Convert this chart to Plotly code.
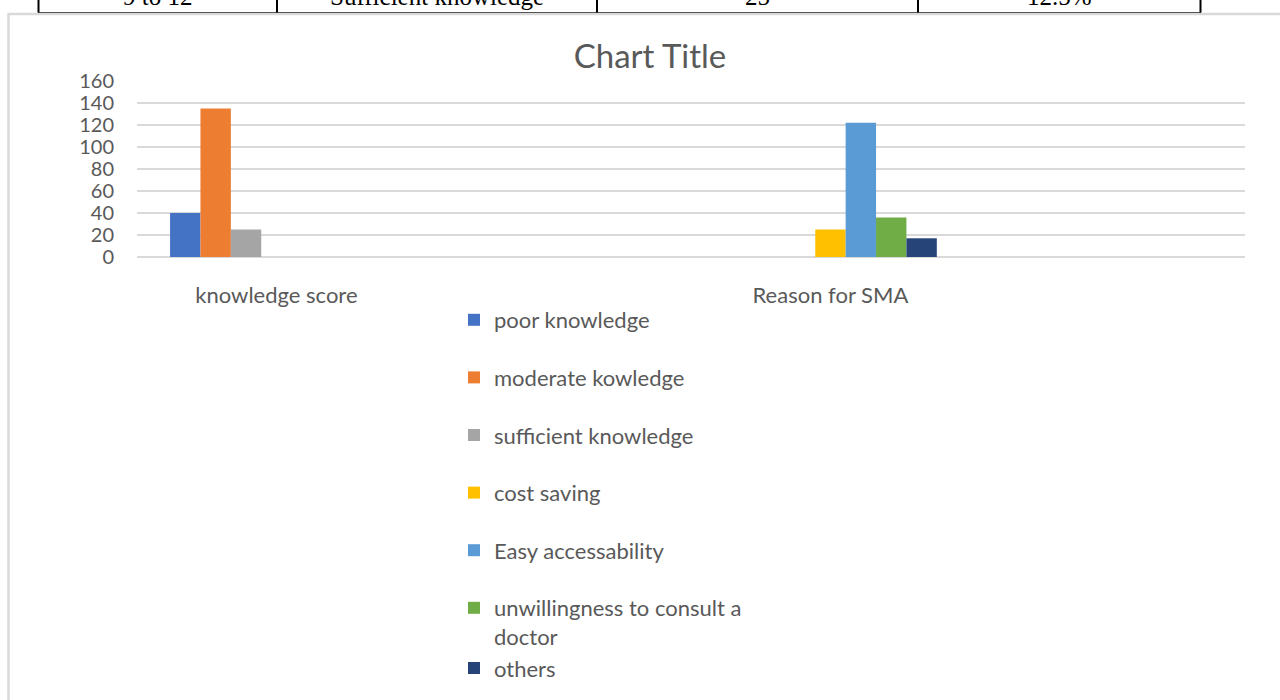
import plotly.graph_objects as go

# ---- data ----
categories = ["knowledge score", "Reason for SMA"]
series_names = [
    "poor knowledge",
    "moderate kowledge",
    "sufficient knowledge",
    "cost saving",
    "Easy accessability",
    "unwillingness to consult a<br>doctor",
    "others",
]
knowledge_values = [40, 135, 25, None, None, None, None]
reason_values = [None, None, None, 25, 122, 36, 17]
series_colors = ["#4472C4", "#ED7D31", "#A5A5A5", "#FFC000", "#5B9BD5", "#70AD47", "#264478"]
legend_groups = ["g1", "g2", "g3", "g4", "g5", "g6", "g6"]

# table fragment at top of page
table_cells = ["9 to 12", "Sufficient knowledge", "25", "12.5%"]
y_ticks = [0, 20, 40, 60, 80, 100, 120, 140, 160]

# ---- layout geometry (pixels) ----
W, H = 1280, 700
L, R, T, B = 137, 1245, 81, 257  # plot area edges
pw, ph = R - L, B - T


def px_x(px):
    return (px - L) / pw


def px_y(py):
    return (B - py) / ph


fig = go.Figure()
for i, name in enumerate(series_names):
    fig.add_trace(go.Bar(
        x=categories,
        y=[knowledge_values[i], reason_values[i]],
        name=name,
        marker=dict(color=series_colors[i], line=dict(width=0)),
        legendgroup=legend_groups[i],
    ))

shapes = []
# chart area border
shapes.append(dict(type="rect", xref="paper", yref="paper",
                   x0=px_x(8.5), x1=px_x(1295), y0=px_y(14), y1=px_y(715),
                   line=dict(color="#D9D9D9", width=2.5), fillcolor="rgba(0,0,0,0)", layer="below"))
# table fragment lines
shapes.append(dict(type="line", xref="paper", yref="paper",
                   x0=px_x(38), x1=px_x(1201), y0=px_y(12.5), y1=px_y(12.5),
                   line=dict(color="#555555", width=1.2)))
for vx in [38.5, 277, 597, 918, 1200.5]:
    shapes.append(dict(type="line", xref="paper", yref="paper",
                       x0=px_x(vx), x1=px_x(vx), y0=px_y(-5), y1=px_y(12.5),
                       line=dict(color="#000000", width=2)))

annotations = []
cell_centers = [157, 437, 757, 1059]
for cx, txt in zip(cell_centers, table_cells):
    annotations.append(dict(text=txt, xref="paper", yref="paper", x=px_x(cx), y=px_y(-4),
                            xanchor="center", yanchor="middle", showarrow=False,
                            font=dict(family="Liberation Serif", size=25, color="#000000")))

fig.update_layout(
    width=W, height=H,
    margin=dict(l=L, r=W - R, t=T, b=H - B, autoexpand=False),
    paper_bgcolor="white", plot_bgcolor="white",
    barmode="group", bargap=0.616, bargroupgap=0,
    title=dict(text="Chart Title", x=px_x(650), xref="paper", xanchor="center",
               y=1 - 56 / H, yref="container", yanchor="middle",
               font=dict(family="Lato", size=33, color="#595959")),
    font=dict(family="Lato", color="#595959"),
    xaxis=dict(type="category", range=[-0.2517, 1.7483], showgrid=False, showline=False,
               zeroline=False, ticks="", tickfont=dict(size=22, color="#595959"),
               ticklabelstandoff=23),
    yaxis=dict(range=[0, 160], tickvals=y_ticks, showgrid=True, gridcolor="#D9D9D9",
               gridwidth=1.5, zeroline=True, zerolinecolor="#D9D9D9", zerolinewidth=1.5,
               showline=False, ticks="", tickfont=dict(size=20, color="#595959"),
               ticklabelstandoff=22),
    legend=dict(x=px_x(454), xanchor="left", y=px_y(299), yanchor="top",
                traceorder="grouped", tracegroupgap=26, valign="top", maxheight=420,
                font=dict(family="Lato", size=22, color="#595959"),
                bgcolor="rgba(0,0,0,0)", borderwidth=0),
    shapes=shapes,
    annotations=annotations,
    showlegend=True,
)

fig.write_html("out.html", config={"displayModeBar": False},
               post_script="document.body.style.margin='0';")
